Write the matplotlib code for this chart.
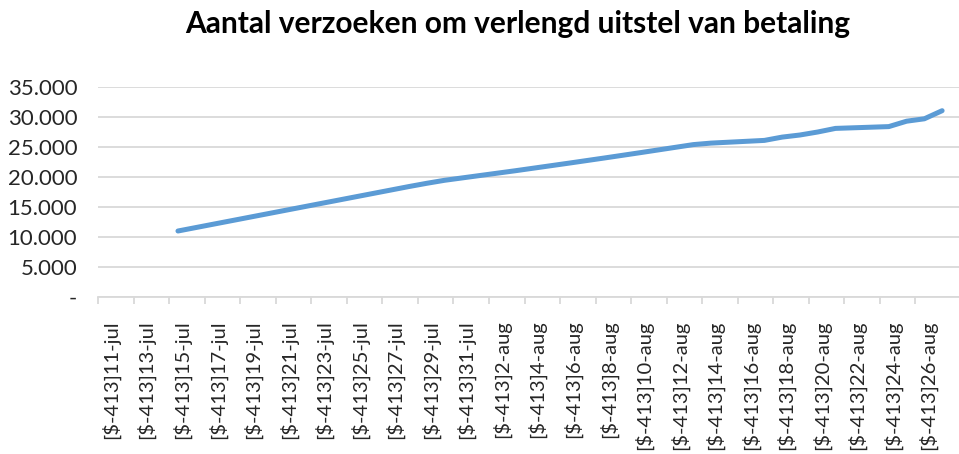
import numpy as np
import matplotlib.pyplot as plt

plt.rcParams['font.family'] = ['Lato', 'DejaVu Sans']

# dates 11-jul .. 27-aug (one category per day)
dates = [f"{d}-jul" for d in range(11, 32)] + [f"{d}-aug" for d in range(1, 28)]
# cumulative requests, first value on 15-jul
requests = [np.nan, np.nan, np.nan, np.nan,
            10950, 11520, 12090, 12660, 13230, 13800, 14370, 14940,
            15510, 16080, 16650, 17220, 17790, 18360, 18900, 19400,
            19800, 20200, 20600, 21000, 21420, 21840, 22260, 22690,
            23120, 23560, 24000, 24450, 24900, 25350, 25600, 25750,
            25900, 26050, 26600, 26950, 27450, 28050, 28150, 28250,
            28350, 29250, 29650, 31000]
y_ticks = [0, 5000, 10000, 15000, 20000, 25000, 30000, 35000]
y_labels = ["-", "5.000", "10.000", "15.000", "20.000", "25.000", "30.000", "35.000"]

x = np.arange(len(dates))

fig = plt.figure(figsize=(9.59, 4.54), dpi=100)
ax = fig.add_axes([98 / 959, 1 - 296.7 / 454, 1 - 98 / 959, (296.7 - 86.7) / 454])

ax.plot(x, requests, color="#5B9BD5", linewidth=3.6, solid_capstyle="round", solid_joinstyle="round")

ax.set_ylim(0, 35000)
ax.set_xlim(-0.5, 47.95)
ax.set_yticks(y_ticks)
ax.set_yticklabels(y_labels, fontsize=16, color="#262626")
ax.grid(axis="y", color="#d9d9d9", linewidth=1.3)
ax.set_axisbelow(True)

# ticks between categories, labels at every second day
ax.set_xticks(np.arange(-0.5, len(dates) - 1, 2))
ax.set_xticklabels([])
ax.set_xticks(x[::2] + 0.2, minor=True)
ax.set_xticklabels(["[$-413]" + d for d in dates[::2]], minor=True, rotation=90,
                   fontsize=14.5, color="#262626")
ax.tick_params(axis="x", which="major", length=5, color="#d9d9d9", width=1.3)
ax.tick_params(axis="x", which="minor", length=0, pad=17)
ax.tick_params(axis="y", length=0, pad=15)

for s in ["top", "right", "left"]:
    ax.spines[s].set_visible(False)
ax.spines["bottom"].set_color("#d9d9d9")
ax.spines["bottom"].set_linewidth(1.3)

fig.text(0.54, 0.947, "Aantal verzoeken om verlengd uitstel van betaling",
         ha="center", va="center", fontsize=21.5, fontweight="bold")

fig.savefig("out.png", dpi=100)
